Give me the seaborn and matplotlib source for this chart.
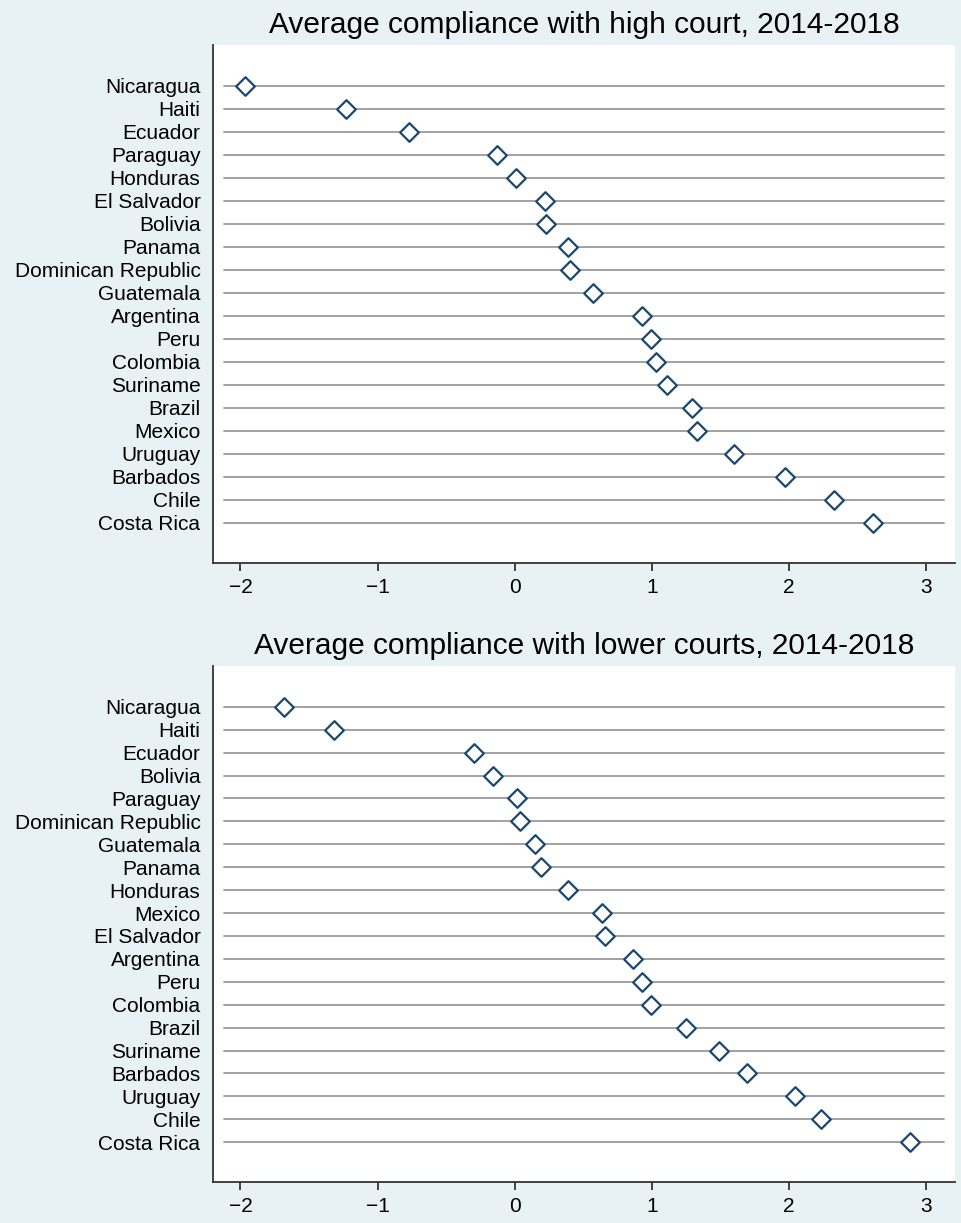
import matplotlib
matplotlib.use("Agg")
import matplotlib.pyplot as plt
import seaborn as sns
import pandas as pd

# high court compliance, 2014-2018
high_countries = ["Nicaragua", "Haiti", "Ecuador", "Paraguay", "Honduras", "El Salvador",
                  "Bolivia", "Panama", "Dominican Republic", "Guatemala", "Argentina", "Peru",
                  "Colombia", "Suriname", "Brazil", "Mexico", "Uruguay", "Barbados", "Chile",
                  "Costa Rica"]
high_values = [-1.97, -1.23, -0.77, -0.13, 0.01, 0.22, 0.23, 0.39, 0.40, 0.57,
               0.93, 0.99, 1.03, 1.11, 1.29, 1.33, 1.60, 1.97, 2.33, 2.61]

# lower courts compliance, 2014-2018
low_countries = ["Nicaragua", "Haiti", "Ecuador", "Bolivia", "Paraguay", "Dominican Republic",
                 "Guatemala", "Panama", "Honduras", "Mexico", "El Salvador", "Argentina",
                 "Peru", "Colombia", "Brazil", "Suriname", "Barbados", "Uruguay", "Chile",
                 "Costa Rica"]
low_values = [-1.68, -1.32, -0.30, -0.16, 0.02, 0.04, 0.15, 0.19, 0.39, 0.64,
              0.66, 0.86, 0.93, 0.99, 1.25, 1.49, 1.69, 2.04, 2.23, 2.88]

xticks = [-2, -1, 0, 1, 2, 3]
titles = ["Average compliance with high court, 2014-2018",
          "Average compliance with lower courts, 2014-2018"]

bg = "#e8f1f3"
navy = "#1a476f"

sns.set_style("white")
plt.rcParams['font.family'] = ['Liberation Sans', 'DejaVu Sans']
plt.rcParams['text.color'] = "black"
plt.rcParams['xtick.color'] = "black"
plt.rcParams['ytick.color'] = "black"

fig = plt.figure(figsize=(9.62, 12.23), dpi=100, facecolor=bg)
ax1 = fig.add_axes([0.2214, 0.5397, 0.7713, 0.4235])
ax2 = fig.add_axes([0.2214, 0.0335, 0.7713, 0.4219])

for ax, names, vals, title in [(ax1, high_countries, high_values, titles[0]),
                               (ax2, low_countries, low_values, titles[1])]:
    df = pd.DataFrame({"country": names, "value": vals, "pos": range(len(names))})
    for p in df["pos"]:
        ax.axhline(p, xmin=0.015, xmax=0.985, color="#9a9a9a", lw=1.3, zorder=1)
    sns.scatterplot(data=df, x="value", y="pos", ax=ax, marker="D", s=90,
                    facecolor="white", edgecolor=navy, linewidth=1.6, zorder=3)
    ax.set_xlim(-2.2, 3.21)
    ax.set_ylim(len(names) - 1 + 1.74, -1.78)
    ax.set_yticks(df["pos"])
    ax.set_yticklabels(df["country"], fontsize=15)
    ax.set_xticks(xticks)
    ax.set_xticklabels([str(t).replace("-", "\u2212") for t in xticks], fontsize=15)
    ax.tick_params(axis="y", length=0, pad=9)
    ax.tick_params(axis="x", length=6, width=1.3, color="#333333", pad=5, bottom=True)
    ax.set_xlabel("")
    ax.set_ylabel("")
    ax.set_facecolor("white")
    for s in ["top", "right"]:
        ax.spines[s].set_visible(False)
    for s in ["left", "bottom"]:
        ax.spines[s].set_color("#333333")
        ax.spines[s].set_linewidth(1.3)
    ax.set_title(title, fontsize=21.5, pad=9, color="black")

fig.savefig("out.png", dpi=100, facecolor=bg)
